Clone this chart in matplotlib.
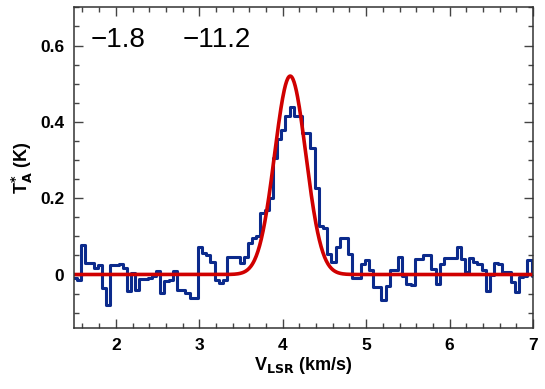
import numpy as np
import matplotlib
matplotlib.use("Agg")
import matplotlib.pyplot as plt
from matplotlib.ticker import MultipleLocator

# spectrum: channel centres (km/s) and antenna temperature (K)
dv = 0.05
v0 = 1.508
ta = [
    -0.008, -0.015, 0.077, 0.030, 0.030, 0.018, 0.024, -0.036, -0.080, 0.026,
    0.026, 0.028, 0.016, -0.044, 0.003, -0.040, -0.012, -0.012, -0.010, -0.005,
    0.010, -0.049, -0.018, -0.015, 0.008, -0.040, -0.040, -0.048, -0.062, -0.062,
    0.072, 0.056, 0.050, 0.034, -0.015, -0.022, -0.015, 0.047, 0.047, 0.047,
    0.030, 0.047, 0.082, 0.096, 0.100, 0.161, 0.170, 0.200, 0.306, 0.354,
    0.378, 0.416, 0.440, 0.416, 0.416, 0.372, 0.372, 0.332, 0.227, 0.126,
    0.122, 0.054, 0.034, 0.072, 0.096, 0.096, 0.054, -0.008, -0.008, 0.027,
    0.039, 0.012, -0.034, -0.034, -0.067, -0.031, 0.012, 0.012, 0.047, -0.005,
    -0.025, -0.027, 0.041, 0.041, 0.050, 0.050, 0.015, -0.024, 0.028, 0.043,
    0.043, 0.043, 0.072, 0.041, 0.006, 0.044, 0.033, 0.028, 0.012, -0.042,
    0.000, 0.030, 0.028, 0.006, 0.006, -0.020, -0.046, -0.007, -0.003, 0.037,
    -0.005,
]
vel = v0 + dv * np.arange(len(ta))

# gaussian fit
amp = 0.52
vc = 4.09
fwhm = 0.44

labels = ["\u22121.8", "\u221211.2"]

plt.rcParams['font.family'] = ['Liberation Sans', 'DejaVu Sans']
plt.rcParams['mathtext.default'] = 'bf'

fig = plt.figure(figsize=(5.45, 3.89), dpi=100)
ax = fig.add_axes([0.136, 0.157, 0.842, 0.824])

ax.step(vel, ta, where='mid', color='#0b2a8c', lw=2.2)

vf = np.linspace(1.5, 7.0, 800)
sig = fwhm / (2 * np.sqrt(2 * np.log(2)))
ax.plot(vf, amp * np.exp(-0.5 * ((vf - vc) / sig) ** 2), color='#d00000', lw=2.6)

ax.set_xlim(1.5, 7.0)
ax.set_ylim(-0.14, 0.7)
ax.xaxis.set_major_locator(MultipleLocator(1))
ax.xaxis.set_minor_locator(MultipleLocator(0.2))
ax.yaxis.set_minor_locator(MultipleLocator(0.05))
ax.set_yticks([0, 0.2, 0.4, 0.6])
ax.set_yticklabels(['0', '0.2', '0.4', '0.6'])
ax.tick_params(which='both', direction='in', top=True, right=True, color='#444444')
ax.tick_params(which='major', length=6.5, width=1)
ax.tick_params(which='minor', length=3.5, width=1)
ax.tick_params(labelsize=12.5, pad=7)
for lab in ax.get_xticklabels() + ax.get_yticklabels():
    lab.set_fontweight('bold')
for s in ax.spines.values():
    s.set_linewidth(1.1)
    s.set_color('#333333')

ax.set_xlabel('V$_{LSR}$ (km/s)', fontsize=13, fontweight='bold', labelpad=2)
ax.set_ylabel('T$_{A}^{*}$ (K)', fontsize=13, fontweight='bold', labelpad=4)

ax.text(0.035, 0.877, labels[0], transform=ax.transAxes, fontsize=20,
        va='baseline', fontweight='light')
ax.text(0.237, 0.877, labels[1], transform=ax.transAxes, fontsize=20,
        va='baseline', fontweight='light')

fig.savefig('out.png', dpi=100)
